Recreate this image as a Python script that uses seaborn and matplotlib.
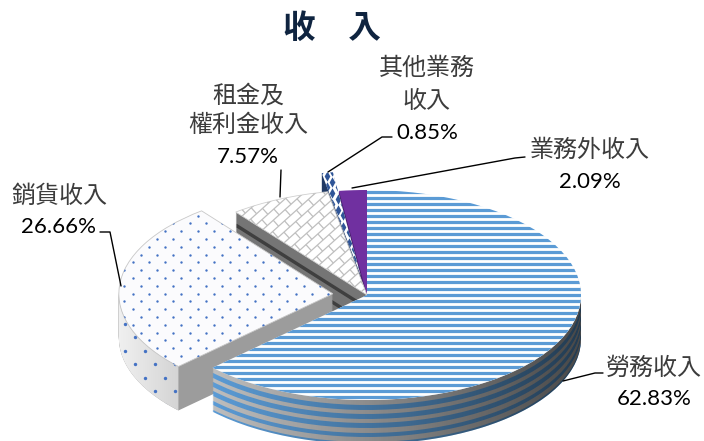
import numpy as np
import matplotlib
matplotlib.use("Agg")
import matplotlib.pyplot as plt
import seaborn as sns
from matplotlib.collections import LineCollection
from matplotlib.path import Path
from matplotlib.patches import PathPatch

names = ["勞務收入", "銷貨收入", "租金及\n權利金收入", "其他業務\n收入", "業務外收入"]
shares = [62.83, 26.66, 7.57, 0.85, 2.09]
explode = [0, 0.16, 0, 0.18, 0]
top_colors = ["#FFFFFF", "#FBFBFD", "#FFFFFF", "#FFFFFF", "#7030A0"]
title = "收　入"

sns.set_theme(style="white")
plt.rcParams["font.family"] = ["Lato", "Noto Sans CJK TC", "DejaVu Sans"]

W, H = 704, 441
CX, CY, RX, RY = 367, 295, 214, 105
DEPTH = 44

fig = plt.figure(figsize=(W / 100, H / 100), dpi=100)
ax = fig.add_axes([0, 0, 1, 1])


def X(px):
    return (np.asarray(px, float) - CX) / RX


def Y(py):
    return (CY - np.asarray(py, float)) / RY


def one_wedge(i, depth_px, color, z, **kw):
    cols = ["none"] * len(shares)
    cols[i] = color
    wp = dict(linewidth=0)
    wp.update(kw)
    wedges, _ = ax.pie(shares, explode=explode, colors=cols, startangle=90,
                       counterclock=False, center=(0, -depth_px / RY),
                       radius=1, wedgeprops=wp)
    for j, w in enumerate(wedges):
        if j != i:
            w.remove()
    wedges[i].set_zorder(z)
    return wedges[i]


def stack(i, z, color_at):
    for k in range(DEPTH, 0, -1):
        one_wedge(i, k, color_at(k), z)


def rim_patch(i, z):
    """Outer wall outline of slice i on its front-facing arc."""
    edges = np.cumsum([0] + shares) / 100 * 2 * np.pi
    a0, a1 = edges[i], edges[i + 1]
    mid = (a0 + a1) / 2
    ox, oy = explode[i] * np.sin(mid), explode[i] * np.cos(mid)
    t = np.linspace(max(a0, np.pi / 2), min(a1, 3 * np.pi / 2), 200)
    xs, ys = ox + np.sin(t), oy + np.cos(t)
    verts = np.r_[np.c_[xs, ys], np.c_[xs[::-1], ys[::-1] - DEPTH / RY], [[xs[0], ys[0]]]]
    p = PathPatch(Path(verts), facecolor="none", edgecolor="none", zorder=z)
    ax.add_patch(p)
    return p


def gradient(patch, c0, c1, z):
    ext = patch.get_path().get_extents()
    c0, c1 = np.array(matplotlib.colors.to_rgba(c0)), np.array(matplotlib.colors.to_rgba(c1))
    g = np.linspace(0, 1, 256)[None, :, None]
    img = c0[None, None, :] * (1 - g) + c1[None, None, :] * g
    ax.imshow(img, extent=(ext.x0, ext.x1, ext.y0, ext.y1), aspect="auto",
              zorder=z, clip_path=patch, interpolation="bilinear")


# ---- slice 4: 業務外收入 (back)
stack(4, 10, lambda k: "#4B2070")
one_wedge(4, 0, top_colors[4], 11)

# ---- slice 3: 其他業務收入
stack(3, 20, lambda k: "#1F3864")
w3 = one_wedge(3, 0, top_colors[3], 21)
dx, dy = [], []
for r, py in enumerate(np.arange(165, 300, 5.6)):
    for px in np.arange(305 + 5.5 * (r % 2), 380, 11):
        dx.append(px)
        dy.append(py)
sc = ax.scatter(X(dx), Y(dy), s=55, marker=[(-.55, 0), (0, 1), (.55, 0), (0, -1)],
                color="#2F5597", linewidths=0, zorder=22)
sc.set_clip_path(w3)

# ---- slice 2: 租金及權利金收入
stack(2, 30, lambda k: "#3F3F3F" if k % 16 >= 12 else "#757575")
w2 = one_wedge(2, 0, top_colors[2], 31, edgecolor="#D0D0D0", linewidth=0.6)
segs = []
ang = np.deg2rad(42)
u = np.array([np.cos(ang), -np.sin(ang)])
v = np.array([np.sin(ang), np.cos(ang)])
origin = np.array([300.0, 250.0])
row, brick = 8.0, 16.0
for r in range(-20, 21):
    a = origin + v * r * row - u * 120
    b = origin + v * r * row + u * 120
    segs.append([a, b])
    for c in np.arange(-120, 120, brick):
        s = origin + v * r * row + u * (c + (r % 2) * brick / 2)
        segs.append([s, s + v * row])
segs = [[(X(p[0]), Y(p[1])) for p in seg] for seg in segs]
lc = LineCollection(segs, colors="#BFBFBF", linewidths=0.9, zorder=32)
ax.add_collection(lc)
lc.set_clip_path(w2)

# ---- slice 1: 銷貨收入
stack(1, 40, lambda k: "#9C9C9C")
wall1 = rim_patch(1, 41)
gradient(wall1, "#F0F0F0", "#D4D4D4", 41)
wx, wy = [], []
for c, px in enumerate(np.arange(115, 190, 10)):
    for py in np.arange(310 + 13.5 * (c % 2), 430, 27):
        wx.append(px)
        wy.append(py)
sc = ax.scatter(X(wx), Y(wy), s=6, color="#4472C4", linewidths=0, zorder=42)
sc.set_clip_path(wall1)
w1 = one_wedge(1, 0, top_colors[1], 43, edgecolor="#C8C8C8", linewidth=0.6)
px_, py_ = [], []
for r, py in enumerate(np.arange(200, 380, 7.8)):
    for px in np.arange(100 + 8.15 * (r % 2), 350, 16.3):
        px_.append(px)
        py_.append(py)
sc = ax.scatter(X(px_), Y(py_), s=3.0, color="#4472C4", linewidths=0, zorder=44)
sc.set_clip_path(w1)

# ---- slice 0: 勞務收入 (front)
band = 4.6
stack(0, 50, lambda k: "#5B9BD5" if int((k - 1) / band) % 2 else "#BDBDBD")
wall0 = rim_patch(0, 51)
gradient(wall0, (0, 0, 0, 0.0), (0, 0, 0, 0.62), 51)
w0 = one_wedge(0, 0, top_colors[0], 52)
ys = np.arange(191.7, 402, 6.05)
ln = ax.hlines(Y(ys), X(150), X(600), colors="#5B9BD5", linewidths=2.3, zorder=53)
ln.set_clip_path(w0)

# ---- labels and leader lines
labels = [
    (names[0], shares[0], 654, [368, 399]),
    (names[1], shares[1], 59, [195, 227]),
    (names[2], shares[2], 248, [95, 125, 157]),
    (names[3], shares[3], 427, [68, 101, 133]),
    (names[4], shares[4], 590, [150, 182]),
]
for name, val, px, rows in labels:
    parts = name.split("\n")
    for part, py in zip(parts, rows):
        ax.text(X(px), Y(py), part, ha="center", va="center", fontsize=17.3,
                color="#3C3C3C", zorder=60)
    ax.text(X(px), Y(rows[-1]), f"{val:.2f}%", ha="center", va="center",
            fontsize=16, color="#000000", zorder=60)

leaders = [
    ([563, 595, 603], [381, 373, 373]),
    ([121, 110, 100], [286, 232, 232]),
    ([280, 281], [197, 170]),
    ([328, 382, 392], [172, 137, 137]),
    ([352, 515, 525], [188, 158, 157]),
]
for lx, ly in leaders:
    ax.plot(X(lx), Y(ly), color="black", linewidth=1.0, zorder=59)

ax.text(X(332), Y(28), title, ha="center", va="center", fontsize=23.5,
        fontweight="bold", color="#0F2440", zorder=60)

ax.set_aspect("auto")
ax.set_xlim(X(0), X(W))
ax.set_ylim(Y(H), Y(0))
ax.axis("off")
fig.savefig("out.png", dpi=100)
